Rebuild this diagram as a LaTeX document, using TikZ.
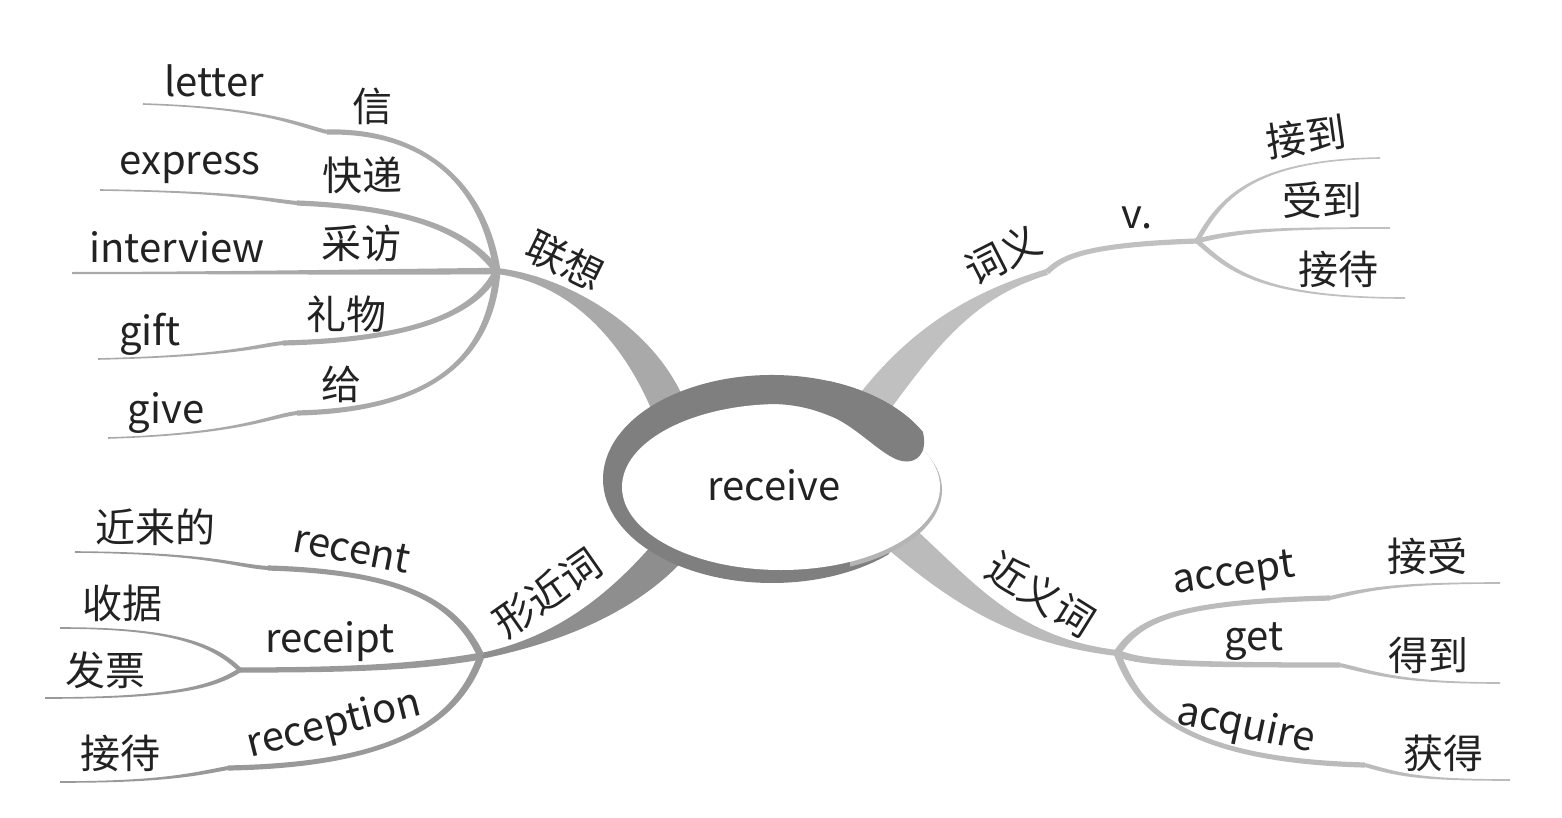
\documentclass[tikz,border=0pt]{standalone}
\usepackage{fontspec}
\setmainfont{Noto Sans CJK SC}
\usetikzlibrary{calc}
\definecolor{ringc}{HTML}{7F7F7F}
\definecolor{rimc}{HTML}{B4B4B4}
\definecolor{lxc}{HTML}{A9A9A9}
\definecolor{xjc}{HTML}{8E8E8E}
\definecolor{xjs}{HTML}{999999}
\definecolor{cyc}{HTML}{C0C0C0}
\definecolor{jyc}{HTML}{BBBBBB}
\definecolor{txtc}{HTML}{222222}
% tapered branch: colour, start, control 1, control 2, end, half width at start, half width at end
\newcommand\br[7]{%
  \path ($(#2)!#6!90:(#3)$) coordinate (p1)
        ($(#2)!#6!-90:(#3)$) coordinate (p2)
        ($(#5)!#7!-90:(#4)$) coordinate (q1)
        ($(#5)!#7!90:(#4)$) coordinate (q2);
  \fill[#1] (p1) .. controls ($(#3)+(p1)-(#2)$) and ($(#4)+(q1)-(#5)$) .. (q1)
     -- (q2) .. controls ($(#4)+(q2)-(#5)$) and ($(#3)+(p2)-(#2)$) .. (p2) -- cycle;
}
\begin{document}
\begin{tikzpicture}[x=1pt,y=1pt]
\tikzset{lbl/.style={font=\fontsize{40}{44}\selectfont, text=txtc, inner sep=0pt}}
\useasboundingbox (0,0) rectangle (1562,-818);
\fill[white] (0,0) rectangle (1562,-818);

% ---------- coordinates ----------
\coordinate (cL) at (670,-410);   \coordinate (jL) at (497,-271);
\coordinate (sL1) at (327,-132);  \coordinate (eL1) at (143,-104);
\coordinate (sL2) at (297,-203);  \coordinate (eL2) at (100,-190);
\coordinate (eL3) at (72,-273);
\coordinate (sL4) at (283,-343);  \coordinate (eL4) at (98,-359);
\coordinate (sL5) at (297,-413);  \coordinate (eL5) at (108,-438);

\coordinate (cX) at (680,-538);   \coordinate (jX) at (481,-656);
\coordinate (sX1) at (268,-568);  \coordinate (eX1) at (75,-552);
\coordinate (sX2) at (240,-670);  \coordinate (eX2a) at (60,-628); \coordinate (eX2b) at (45,-698);
\coordinate (sX3) at (228,-768);  \coordinate (eX3) at (60,-782);

\coordinate (cC) at (865,-415);   \coordinate (mC) at (1047,-272);
\coordinate (jC) at (1197,-241);
\coordinate (eC1) at (1380,-158); \coordinate (eC2) at (1390,-228); \coordinate (eC3) at (1405,-298);

\coordinate (cJ) at (880,-520);   \coordinate (jJ) at (1117,-653);
\coordinate (sJ1) at (1330,-598); \coordinate (eJ1) at (1500,-583);
\coordinate (sJ2) at (1340,-665); \coordinate (eJ2) at (1500,-683);
\coordinate (sJ3) at (1365,-765); \coordinate (eJ3) at (1510,-780);

% ---------- 联想 ----------
\br{lxc}{cL}{640,-335}{570,-280}{jL}{17pt}{3pt}
\br{lxc}{jL}{485,-190}{430,-130}{sL1}{3.5pt}{2.6pt}
\br{lxc}{sL1}{295,-124}{265,-108}{eL1}{2pt}{0.8pt}
\br{lxc}{jL}{470,-235}{420,-208}{sL2}{3.5pt}{2.6pt}
\br{lxc}{sL2}{265,-200}{240,-192}{eL2}{2pt}{0.8pt}
\br{lxc}{jL}{400,-272}{200,-273}{eL3}{3.2pt}{1pt}
\br{lxc}{jL}{475,-315}{410,-340}{sL4}{3.5pt}{2.6pt}
\br{lxc}{sL4}{255,-346}{230,-356}{eL4}{2pt}{0.8pt}
\br{lxc}{jL}{490,-360}{430,-410}{sL5}{3.5pt}{2.6pt}
\br{lxc}{sL5}{270,-416}{240,-434}{eL5}{2pt}{0.8pt}

% ---------- 形近词 ----------
\br{xjc}{cX}{630,-600}{560,-640}{jX}{17pt}{3pt}
\br{xjs}{jX}{455,-600}{400,-572}{sX1}{3.5pt}{2.6pt}
\br{xjs}{sX1}{235,-566}{210,-553}{eX1}{2pt}{0.8pt}
\br{xjs}{jX}{420,-667}{350,-670}{sX2}{3.5pt}{2.6pt}
\br{xjs}{sX2}{210,-640}{160,-628}{eX2a}{2.2pt}{0.8pt}
\br{xjs}{sX2}{210,-690}{160,-698}{eX2b}{2.2pt}{0.8pt}
\br{xjs}{jX}{455,-730}{380,-765}{sX3}{3.5pt}{2.6pt}
\br{xjs}{sX3}{195,-774}{165,-782}{eX3}{2pt}{0.8pt}

% ---------- 词义 ----------
\br{cyc}{cC}{920,-340}{970,-295}{mC}{17pt}{3pt}
\br{cyc}{mC}{1062,-258}{1080,-245}{jC}{2.8pt}{2.6pt}
\br{cyc}{jC}{1220,-200}{1250,-160}{eC1}{2.4pt}{0.8pt}
\br{cyc}{jC}{1240,-230}{1280,-228}{eC2}{2.4pt}{0.8pt}
\br{cyc}{jC}{1230,-270}{1260,-298}{eC3}{2.4pt}{0.8pt}

% ---------- 近义词 ----------
\br{jyc}{cJ}{960,-590}{1010,-640}{jJ}{17pt}{3pt}
\br{jyc}{jJ}{1140,-618}{1180,-602}{sJ1}{3.5pt}{2.6pt}
\br{jyc}{sJ1}{1365,-590}{1390,-583}{eJ1}{2pt}{0.8pt}
\br{jyc}{jJ}{1140,-663}{1180,-665}{sJ2}{3.5pt}{2.6pt}
\br{jyc}{sJ2}{1375,-673}{1400,-683}{eJ2}{2pt}{0.8pt}
\br{jyc}{jJ}{1135,-700}{1170,-760}{sJ3}{3.5pt}{2.6pt}
\br{jyc}{sJ3}{1400,-775}{1420,-780}{eJ3}{2pt}{0.8pt}

% ---------- central ring ----------
\fill[ringc] (772,-479) -- ++(26.7:169 and 104)
  arc[start angle=26.7, end angle=314, x radius=169, y radius=104] -- cycle;
\begin{scope}
  \clip (850,-440) rectangle (960,-600);
  \fill[rimc] (783,-490) ellipse [x radius=159, y radius=84.5];
\end{scope}
\fill[white] (781,-487) ellipse [x radius=159, y radius=83];
\fill[ringc] (772,-479) ++(70:169 and 104)
  arc[start angle=70, end angle=26.7, x radius=169, y radius=104]
  .. controls (928,-454) and (916,-464) .. (902,-461)
  .. controls (885,-458) and (862,-432) .. (837,-419)
  .. controls (815,-409) and (795,-404) .. (770,-404) -- cycle;
\node[lbl] (center) at (774,-485) {receive};

% ---------- labels ----------
\node[lbl] (tLX) at (565,-261) [rotate=-26] {联想};
\node[lbl] (tL1a) at (214,-81) {letter};
\node[lbl] (tL1b) at (372,-106) {信};
\node[lbl] (tL2a) at (190,-168) {express};
\node[lbl] (tL2b) at (362,-175) {快递};
\node[lbl] (tL3a) at (177,-247) {interview};
\node[lbl] (tL3b) at (361,-243) {采访};
\node[lbl] (tL4a) at (150,-334) {gift};
\node[lbl] (tL4b) at (346,-314) {礼物};
\node[lbl] (tL5a) at (166,-413) {give};
\node[lbl] (tL5b) at (341,-384) {给};

\node[lbl] (tXJ) at (547,-593) [rotate=35] {形近词};
\node[lbl] (tX1a) at (352,-549) [rotate=-11] {recent};
\node[lbl] (tX1b) at (155,-527) {近来的};
\node[lbl] (tX2a) at (330,-642) {receipt};
\node[lbl] (tX2b) at (122,-603) {收据};
\node[lbl] (tX2c) at (105,-670) {发票};
\node[lbl] (tX3a) at (334,-725) [rotate=14] {reception};
\node[lbl] (tX3b) at (120,-753) {接待};

\node[lbl] (tCY) at (1003,-255) [rotate=27] {词义};
\node[lbl] (tV) at (1137,-218) {v.};
\node[lbl] (tC1) at (1306,-137) [rotate=8] {接到};
\node[lbl] (tC2) at (1322,-200) {受到};
\node[lbl] (tC3) at (1338,-269) {接待};

\node[lbl] (tJY) at (1041,-594) [rotate=-32] {近义词};
\node[lbl] (tJ1a) at (1234,-576) [rotate=8] {accept};
\node[lbl] (tJ1b) at (1427,-556) {接受};
\node[lbl] (tJ2a) at (1254,-642) {get};
\node[lbl] (tJ2b) at (1428,-655) {得到};
\node[lbl] (tJ3a) at (1246,-727) [rotate=-12] {acquire};
\node[lbl] (tJ3b) at (1443,-753) {获得};
\end{tikzpicture}
\end{document}
